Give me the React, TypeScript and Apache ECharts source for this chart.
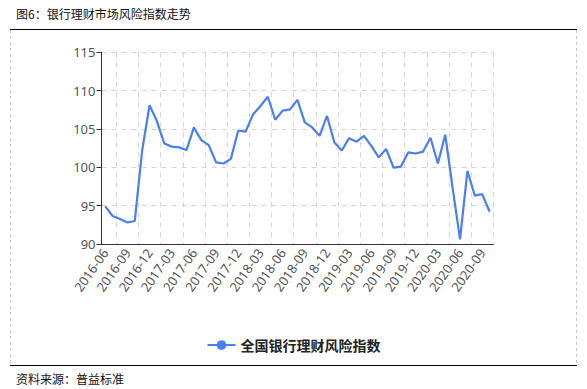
import React, { useEffect, useRef } from "react";
import * as echarts from "echarts";

const titleText = "图6：银行理财市场风险指数走势";
const sourceText = "资料来源：普益标准";
const seriesName = "全国银行理财风险指数";

const months: string[] = [
  "2016-06", "2016-07", "2016-08", "2016-09", "2016-10", "2016-11", "2016-12",
  "2017-01", "2017-02", "2017-03", "2017-04", "2017-05", "2017-06", "2017-07",
  "2017-08", "2017-09", "2017-10", "2017-11", "2017-12", "2018-01", "2018-02",
  "2018-03", "2018-04", "2018-05", "2018-06", "2018-07", "2018-08", "2018-09",
  "2018-10", "2018-11", "2018-12", "2019-01", "2019-02", "2019-03", "2019-04",
  "2019-05", "2019-06", "2019-07", "2019-08", "2019-09", "2019-10", "2019-11",
  "2019-12", "2020-01", "2020-02", "2020-03", "2020-04", "2020-05", "2020-06",
  "2020-07", "2020-08", "2020-09", "2020-10",
];

const riskIndex: number[] = [
  94.9, 93.65, 93.25, 92.8, 93.0, 102.2, 108.1, 106.0, 103.1, 102.7, 102.6,
  102.25, 105.2, 103.55, 102.9, 100.65, 100.5, 101.1, 104.8, 104.65, 106.9,
  108.0, 109.2, 106.2, 107.4, 107.55, 108.8, 105.85, 105.2, 104.1, 106.7,
  103.25, 102.2, 103.8, 103.35, 104.1, 102.8, 101.3, 102.4, 99.95, 100.1,
  101.95, 101.8, 102.05, 103.85, 100.5, 104.25, 97.3, 90.6, 99.55, 96.3,
  96.5, 94.2,
];

const yMin = 90;
const yMax = 115;
const yStep = 5;

const lineColor = "#4A7EF3";

export default function App() {
  const ref = useRef<HTMLDivElement>(null);

  useEffect(() => {
    if (!ref.current) return;
    const chart = echarts.init(ref.current, undefined, { renderer: "svg" });
    chart.setOption({
      animation: false,
      backgroundColor: "#ffffff",
      grid: { left: 101.5, right: 93.7, top: 52.3, bottom: 145, containLabel: false },
      legend: {
        data: [seriesName],
        left: "center",
        top: 333,
        itemWidth: 28,
        itemHeight: 12,
        textStyle: {
          fontFamily: "Noto Sans CJK SC",
          fontWeight: "bold",
          fontSize: 14,
          color: "#222",
        },
      },
      xAxis: {
        type: "category",
        data: months,
        boundaryGap: true,
        axisLine: { lineStyle: { color: "#333", width: 1 } },
        axisTick: { alignWithLabel: true, interval: 2, length: 5, lineStyle: { color: "#333" } },
        axisLabel: {
          interval: 2,
          rotate: 55,
          fontSize: 13,
          color: "#555",
          fontFamily: "Noto Sans",
          margin: 6,
        },
        splitLine: {
          show: true,
          interval: (i: number) => i % 3 === 2,
          lineStyle: { type: [5, 5], color: "#d6d6d6" },
        },
      },
      yAxis: {
        type: "value",
        min: yMin,
        max: yMax,
        interval: yStep,
        axisLine: { show: true, lineStyle: { color: "#333", width: 1 } },
        axisTick: { show: true, length: 5, lineStyle: { color: "#333" } },
        axisLabel: { fontSize: 13, color: "#555", fontFamily: "Noto Sans", margin: 6 },
        splitLine: { show: true, lineStyle: { type: [5, 5], color: "#d6d6d6" } },
      },
      series: [
        {
          name: seriesName,
          type: "line",
          data: riskIndex,
          symbol: "circle",
          symbolSize: 10,
          showSymbol: false,
          itemStyle: { color: lineColor },
          lineStyle: { color: lineColor, width: 2.2 },
        },
      ],
      graphic: [
        {
          type: "text",
          left: 16,
          top: 7,
          style: {
            text: titleText,
            fontFamily: "Noto Sans CJK SC",
            fontSize: 12,
            fill: "#111",
          },
        },
        {
          type: "line",
          shape: { x1: 10, y1: 29.5, x2: 577, y2: 29.5 },
          style: { stroke: "#000", lineWidth: 1.2 },
        },
        {
          type: "line",
          shape: { x1: 10.5, y1: 30, x2: 10.5, y2: 365 },
          style: { stroke: "#c8c8c8", lineWidth: 1, lineDash: [3, 3] },
        },
        {
          type: "line",
          shape: { x1: 576.5, y1: 30, x2: 576.5, y2: 365 },
          style: { stroke: "#c8c8c8", lineWidth: 1, lineDash: [3, 3] },
        },
        {
          type: "line",
          shape: { x1: 10, y1: 365.5, x2: 577, y2: 365.5 },
          style: { stroke: "#000", lineWidth: 1.2 },
        },
        {
          type: "text",
          left: 16,
          top: 372,
          style: {
            text: sourceText,
            fontFamily: "Noto Sans CJK SC",
            fontSize: 12,
            fill: "#111",
          },
        },
      ],
    });
    return () => chart.dispose();
  }, []);

  return (
    <div
      ref={ref}
      style={{ position: "absolute", left: 0, top: 0, width: 587, height: 389 }}
    />
  );
}
